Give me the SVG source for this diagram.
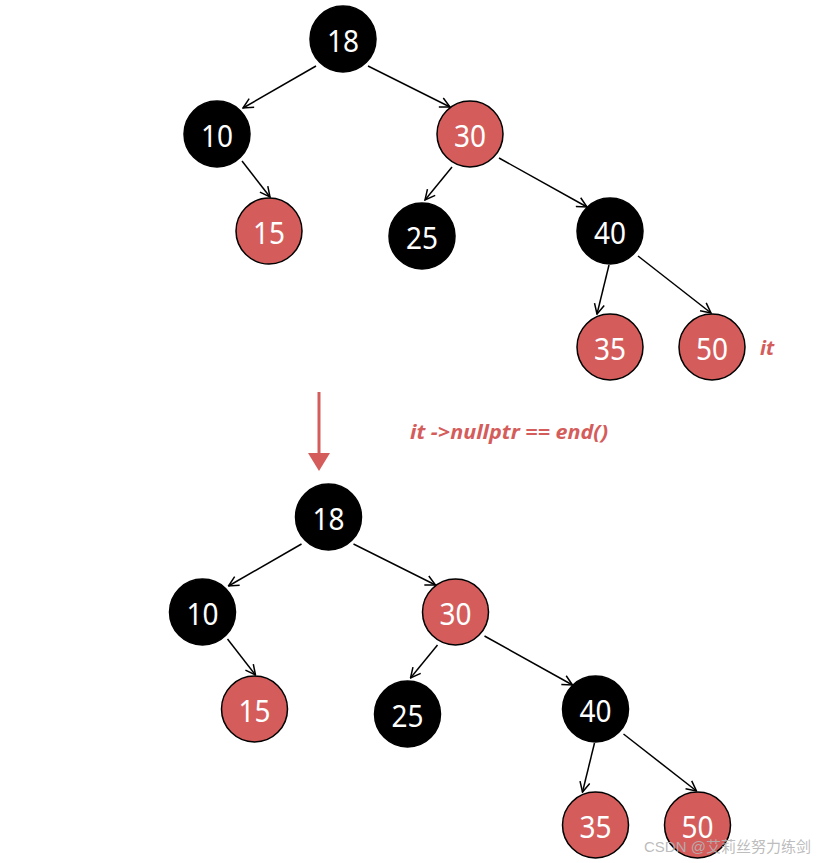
<svg xmlns="http://www.w3.org/2000/svg" width="820" height="863" viewBox="0 0 820 863">
<style>
.blk{fill:#000;stroke:#000;stroke-width:1.5}
.red{fill:#D45D5C;stroke:#000;stroke-width:1.5}
.lbl{font-family:"Noto Sans","Liberation Sans",sans-serif;font-size:31px;fill:#fff;text-anchor:middle}
.edge{stroke:#000;stroke-width:1.5;fill:none;marker-end:url(#ah)}
.note{font-family:"Noto Sans","Liberation Sans",sans-serif;font-style:italic;font-weight:bold;fill:#D45D5C}
</style>
<defs>
<marker id="ah" markerUnits="userSpaceOnUse" markerWidth="12" markerHeight="12" viewBox="0 0 12 12" refX="11" refY="6" orient="auto">
<path d="M1,1 L11,6 L1,11" fill="none" stroke="#000" stroke-width="1.5"/>
</marker>
</defs>
<rect width="820" height="863" fill="#fff"/>

<g id="tree-top">
<g id="edges-top">
<line class="edge" x1="316" y1="66" x2="243" y2="108"/>
<line class="edge" x1="368" y1="66" x2="450" y2="107"/>
<line class="edge" x1="242" y1="161" x2="270" y2="197"/>
<line class="edge" x1="452" y1="167" x2="425" y2="200"/>
<line class="edge" x1="499" y1="158" x2="587" y2="207"/>
<line class="edge" x1="609" y1="265" x2="597" y2="314"/>
<line class="edge" x1="638" y1="256" x2="711" y2="313"/>
</g>
<g id="t-n18"><circle class="blk" cx="343" cy="39" r="33"/><text class="lbl" x="343" y="52" textLength="32" lengthAdjust="spacingAndGlyphs">18</text></g>
<g id="t-n10"><circle class="blk" cx="217" cy="134" r="33"/><text class="lbl" x="217" y="147" textLength="32" lengthAdjust="spacingAndGlyphs">10</text></g>
<g id="t-n30"><circle class="red" cx="470" cy="134" r="33"/><text class="lbl" x="470" y="147" textLength="32" lengthAdjust="spacingAndGlyphs">30</text></g>
<g id="t-n15"><circle class="red" cx="269" cy="231" r="33"/><text class="lbl" x="269" y="244" textLength="32" lengthAdjust="spacingAndGlyphs">15</text></g>
<g id="t-n25"><circle class="blk" cx="422" cy="236" r="33"/><text class="lbl" x="422" y="249" textLength="32" lengthAdjust="spacingAndGlyphs">25</text></g>
<g id="t-n40"><circle class="blk" cx="610" cy="231" r="33"/><text class="lbl" x="610" y="244" textLength="32" lengthAdjust="spacingAndGlyphs">40</text></g>
<g id="t-n35"><circle class="red" cx="610" cy="347" r="33"/><text class="lbl" x="610" y="360" textLength="32" lengthAdjust="spacingAndGlyphs">35</text></g>
<g id="t-n50"><circle class="red" cx="712" cy="347" r="33"/><text class="lbl" x="712" y="360" textLength="32" lengthAdjust="spacingAndGlyphs">50</text></g>
<text class="note" x="760" y="355" font-size="20">it</text>
</g>

<g id="transition">
<line x1="319" y1="392" x2="319" y2="455" stroke="#D45D5C" stroke-width="3"/>
<polygon points="308,453 330,453 319,471" fill="#D45D5C"/>
<text class="note" x="410" y="439" font-size="19" textLength="198" lengthAdjust="spacingAndGlyphs">it -&gt;nullptr  == end()</text>
</g>

<g id="tree-bottom" transform="translate(-14.5,478)">
<g id="edges-bottom">
<line class="edge" x1="316" y1="66" x2="243" y2="108"/>
<line class="edge" x1="368" y1="66" x2="450" y2="107"/>
<line class="edge" x1="242" y1="161" x2="270" y2="197"/>
<line class="edge" x1="452" y1="167" x2="425" y2="200"/>
<line class="edge" x1="499" y1="158" x2="587" y2="207"/>
<line class="edge" x1="609" y1="265" x2="597" y2="314"/>
<line class="edge" x1="638" y1="256" x2="711" y2="313"/>
</g>
<g id="b-n18"><circle class="blk" cx="343" cy="39" r="33"/><text class="lbl" x="343" y="52" textLength="32" lengthAdjust="spacingAndGlyphs">18</text></g>
<g id="b-n10"><circle class="blk" cx="217" cy="134" r="33"/><text class="lbl" x="217" y="147" textLength="32" lengthAdjust="spacingAndGlyphs">10</text></g>
<g id="b-n30"><circle class="red" cx="470" cy="134" r="33"/><text class="lbl" x="470" y="147" textLength="32" lengthAdjust="spacingAndGlyphs">30</text></g>
<g id="b-n15"><circle class="red" cx="269" cy="231" r="33"/><text class="lbl" x="269" y="244" textLength="32" lengthAdjust="spacingAndGlyphs">15</text></g>
<g id="b-n25"><circle class="blk" cx="422" cy="236" r="33"/><text class="lbl" x="422" y="249" textLength="32" lengthAdjust="spacingAndGlyphs">25</text></g>
<g id="b-n40"><circle class="blk" cx="610" cy="231" r="33"/><text class="lbl" x="610" y="244" textLength="32" lengthAdjust="spacingAndGlyphs">40</text></g>
<g id="b-n35"><circle class="red" cx="610" cy="347" r="33"/><text class="lbl" x="610" y="360" textLength="32" lengthAdjust="spacingAndGlyphs">35</text></g>
<g id="b-n50"><circle class="red" cx="712" cy="347" r="33"/><text class="lbl" x="712" y="360" textLength="32" lengthAdjust="spacingAndGlyphs">50</text></g>
</g>

<text x="644" y="852" font-family="'Liberation Sans','Noto Sans CJK SC',sans-serif" font-size="15" fill="#b4b4b4" fill-opacity="0.9">CSDN @艾莉丝努力练剑</text>
</svg>
